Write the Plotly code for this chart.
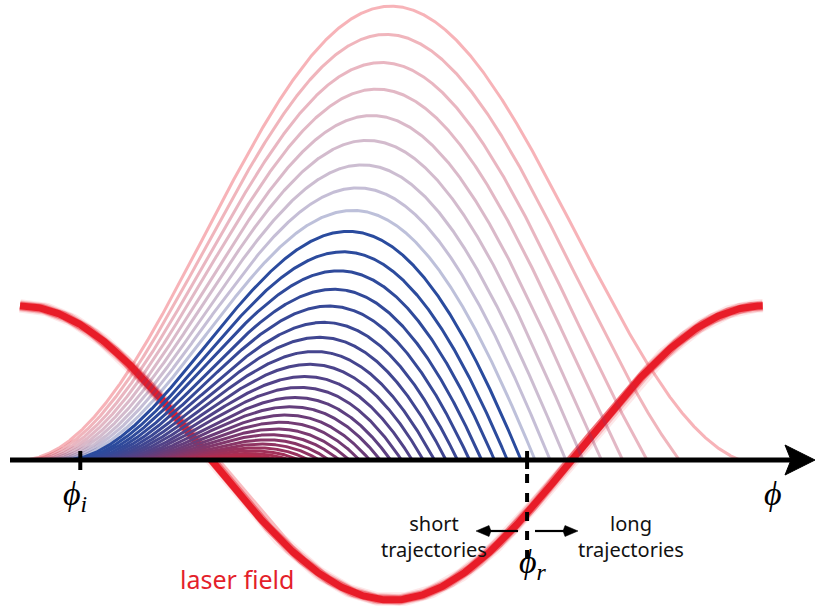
import numpy as np
import plotly.graph_objects as go

# Ionization phases (rad) of the drawn electron trajectories, longest first
ionization_phase = [0.003, 0.043, 0.084, 0.124, 0.165, 0.205, 0.246, 0.286, 0.327,
                    0.367, 0.408, 0.448, 0.489, 0.529, 0.570, 0.610, 0.651, 0.691,
                    0.732, 0.772, 0.813, 0.853, 0.894, 0.934, 0.975, 1.015, 1.056,
                    1.096, 1.137, 1.177, 1.218, 1.258, 1.299, 1.339, 1.380, 1.420,
                    1.461, 1.501]
n_long = 9                      # trajectories ionized before the cutoff one
field_amplitude = 0.645         # laser field drawn in displacement units
field_offset = 0.031
phi_i_mark = 0.51               # ionization-phase marker (rad)
phi_r_mark = 4.29               # return-phase marker (rad)

# pixel <-> data mapping of the 816x610 canvas
PX_PER_RAD = 118.2
X0_PX = 20.0
AXIS_PX = 460.0
PX_PER_UNIT = 228.0
W, H = 816, 610


def px_x(p):
    return (p - X0_PX) / PX_PER_RAD


def px_y(p):
    return (AXIS_PX - p) / PX_PER_UNIT


BLUE = np.array([42, 75, 158])
RED = np.array([232, 32, 48])


def cmap(t):
    c = BLUE + (RED - BLUE) * t
    return tuple(int(round(v)) for v in c)


def trajectory(phi0):
    phi = np.linspace(phi0, 2 * np.pi + 0.2, 3000)
    d = np.cos(phi0) - np.cos(phi) - (phi - phi0) * np.sin(phi0)
    neg = np.where(d[5:] < 0)[0]
    if len(neg):
        j = neg[0] + 5
        f = d[j - 1] / (d[j - 1] - d[j])
        pr = phi[j - 1] + f * (phi[j] - phi[j - 1])
        phi = np.append(phi[:j], pr)
        d = np.append(d[:j], 0.0)
    return phi, d


fig = go.Figure()

# laser field, soft-edged red line
phase = np.linspace(0, 2 * np.pi, 600)
field = field_amplitude * np.cos(phase) + field_offset
for w, a in [(13.5, 0.10), (11, 0.22), (9, 0.45), (7, 1.0)]:
    fig.add_trace(go.Scatter(x=phase, y=field, mode="lines", hoverinfo="skip",
                             line=dict(color=f"rgba(232,28,40,{a})", width=w)))

# electron trajectories
n_short = len(ionization_phase) - n_long
for k, p0 in enumerate(ionization_phase):
    ph, d = trajectory(p0)
    if k < n_long:
        t = 1 - k / n_long
        r, g, b = cmap(t)
        col = f"rgba({r},{g},{b},0.34)"
    else:
        t = ((k - n_long) / (n_short - 1)) ** 1.4
        r, g, b = cmap(t)
        col = f"rgb({r},{g},{b})"
    fig.add_trace(go.Scatter(x=ph, y=d, mode="lines", hoverinfo="skip",
                             line=dict(color=col, width=3)))

# phase axis with arrow
fig.add_trace(go.Scatter(x=[px_x(10), px_x(792)], y=[0, 0], mode="lines",
                         hoverinfo="skip", line=dict(color="black", width=5)))


def tri_path(tip_x, base_x, yc, half, notch_x=None):
    if notch_x is None:
        notch_x = base_x
    return (f"M {px_x(tip_x)},{px_y(yc)} L {px_x(base_x)},{px_y(yc - half)} "
            f"L {px_x(notch_x)},{px_y(yc)} L {px_x(base_x)},{px_y(yc + half)} Z")


fig.add_shape(type="path", path=tri_path(815, 785, AXIS_PX, 15, 791),
              fillcolor="black", line=dict(color="black", width=1))

# ionization tick
fig.add_shape(type="line", x0=phi_i_mark, x1=phi_i_mark, y0=px_y(451), y1=px_y(470),
              line=dict(color="black", width=4))
# return-phase tick and dashed guide
fig.add_shape(type="line", x0=phi_r_mark, x1=phi_r_mark, y0=px_y(451), y1=px_y(469),
              line=dict(color="black", width=4))
fig.add_shape(type="line", x0=phi_r_mark, x1=phi_r_mark, y0=px_y(474), y1=px_y(560),
              line=dict(color="black", width=4, dash="9px,10px"))

# short / long arrows
ARROW_Y = 531
for x_from, x_tip, x_base in [(518, 476, 489), (535, 578, 565)]:
    fig.add_shape(type="line", x0=px_x(x_from), x1=px_x(x_base), y0=px_y(ARROW_Y),
                  y1=px_y(ARROW_Y), line=dict(color="black", width=2.2))
    notch = x_base + (2 if x_tip < x_base else -2)
    fig.add_shape(type="path", path=tri_path(x_tip, x_base, ARROW_Y, 5.5, notch),
                  fillcolor="black", line=dict(color="black", width=0.5))

sans = "Noto Sans"
fig.add_annotation(x=px_x(434), y=px_y(536), text="short<br>trajectories", showarrow=False,
                   font=dict(family=sans, size=20, color="#111"), align="center")
fig.add_annotation(x=px_x(631), y=px_y(536), text="long<br>trajectories", showarrow=False,
                   font=dict(family=sans, size=20, color="#111"), align="center")
fig.add_annotation(x=px_x(237), y=px_y(579), text="laser field", showarrow=False,
                   font=dict(family=sans, size=25, color="#e41f2b"))

serif = "Liberation Serif"
fig.add_annotation(x=px_x(773), y=px_y(493), text="<i>ϕ</i>", showarrow=False,
                   font=dict(family=serif, size=34, color="black"))
fig.add_annotation(x=px_x(75), y=px_y(496), text="<i>ϕ</i><sub><i>i</i></sub>", showarrow=False,
                   font=dict(family=serif, size=34, color="black"))
fig.add_annotation(x=px_x(533), y=px_y(564), text="<i>ϕ</i><sub><i>r</i></sub>", showarrow=False,
                   font=dict(family=serif, size=34, color="black"))

fig.update_layout(
    width=W, height=H, margin=dict(l=0, r=0, t=0, b=0),
    paper_bgcolor="white", plot_bgcolor="white", showlegend=False,
    xaxis=dict(range=[px_x(0), px_x(W)], visible=False, fixedrange=True),
    yaxis=dict(range=[px_y(H), px_y(0)], visible=False, fixedrange=True),
)

fig.write_html("out.html")
